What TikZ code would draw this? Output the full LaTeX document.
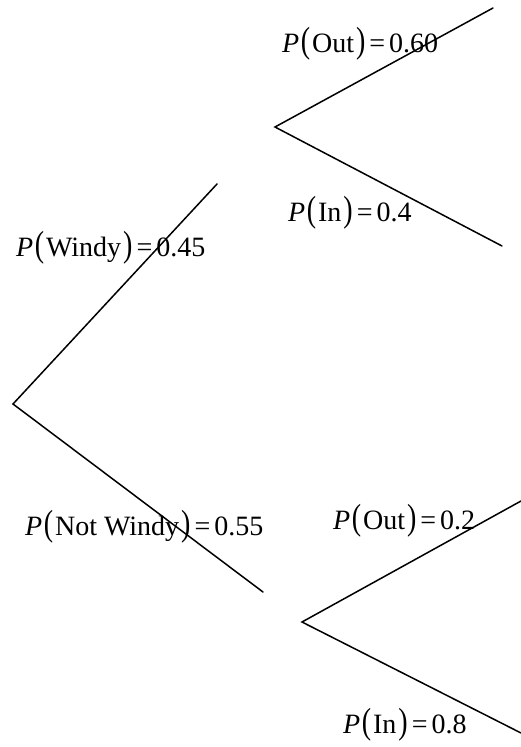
\documentclass[tikz,border=0pt]{standalone}
\usepackage{fontspec}
\setmainfont{Liberation Serif}
\usepackage{graphicx}
\usepackage{tikz}
\usetikzlibrary{positioning}

\newcommand{\tallparen}[1]{\raisebox{-0.03em}{\scalebox{1}[1.3]{#1}}}
\newcommand{\prob}[2]{\textit{P}\kern1.5pt\tallparen{(}\kern2pt#1\kern2pt\tallparen{)}\kern4pt=\kern4pt#2}

\begin{document}
\begin{tikzpicture}[
    x=1pt, y=-1pt,
    every node/.style={font=\fontsize{28}{32}\selectfont, inner sep=0pt},
    branch/.style={line width=1.5pt, line cap=round},
    lbl/.style={anchor=base west},
]
\useasboundingbox (0,0) rectangle (521,747);

% ---------- first split: wind ----------
\coordinate (root) at (13,404);
\coordinate (windy) at (217,184);
\coordinate (calm) at (263,592);
\draw[branch] (windy) -- (root) -- (calm);
\node[lbl] (pwindy) at (16,256) {\prob{Windy}{0.45}};
\node[lbl] (pcalm) at (25,535) {\prob{Not Windy}{0.55}};

% ---------- second split, windy ----------
\coordinate (wroot) at (275,127);
\coordinate (wout) at (493,8);
\coordinate (win) at (502,246);
\draw[branch] (wout) -- (wroot) -- (win);
\node[lbl] (pwout) at (282,52) {\prob{Out}{0.60}};
\node[lbl] (pwin) at (288,221) {\prob{In}{0.4}};

% ---------- second split, not windy ----------
\coordinate (croot) at (302,622);
\coordinate (cout) at (521,501);
\coordinate (cin) at (521,733);
\draw[branch] (cout) -- (croot) -- (cin);
\node[lbl] (pcout) at (333,529) {\prob{Out}{0.2}};
\node[lbl] (pcin) at (343,733) {\prob{In}{0.8}};

\end{tikzpicture}
\end{document}
